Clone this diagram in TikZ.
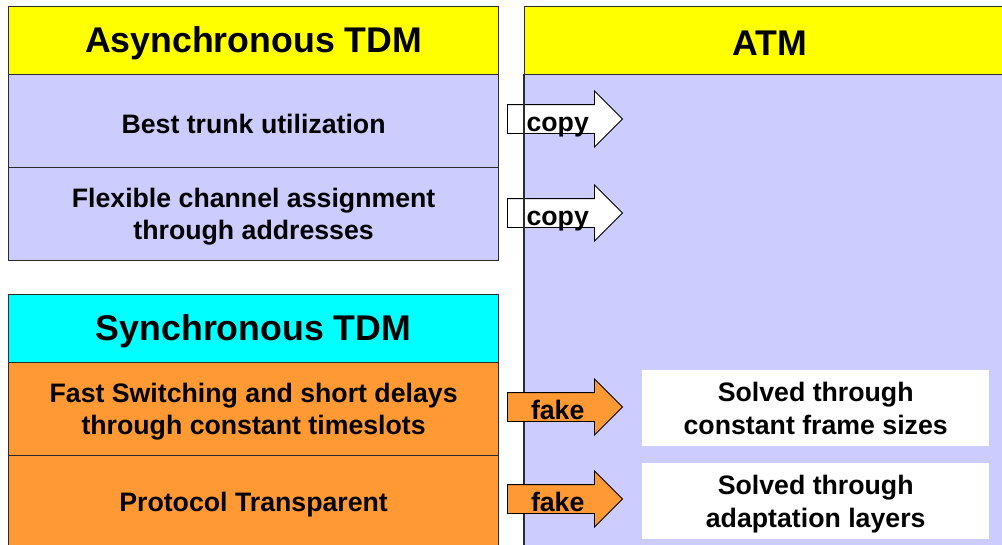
\documentclass[tikz,border=0pt]{standalone}
\usepackage{fontspec}
\setmainfont{Liberation Sans}
\usetikzlibrary{shapes.arrows}
\definecolor{hdryellow}{HTML}{FFFF00}
\definecolor{lav}{HTML}{CCCCFF}
\definecolor{cyanhdr}{HTML}{00FFFF}
\definecolor{orng}{HTML}{FF9933}
\definecolor{edgecol}{HTML}{2B2B2B}
\begin{document}
\begin{tikzpicture}[x=1pt,y=-1pt,
  bodyfont/.style={font=\fontsize{26.7}{32}\selectfont\bfseries},
  headfont/.style={font=\fontsize{35.7}{40}\selectfont\bfseries},
  solvfont/.style={font=\fontsize{26.7}{33}\selectfont\bfseries},
  txt/.style={align=center, inner sep=0pt, yshift=-2.5pt},
  cell/.style={draw=edgecol, line width=1.2pt, anchor=north west, inner sep=0pt,
    minimum width=490pt, minimum height=93pt},
  hdr/.style={cell, minimum height=68pt},
  arr/.style={single arrow, draw=black, line width=0.9pt, anchor=tail,
    minimum height=115pt, single arrow head extend=13.5pt, inner xsep=2pt, inner ysep=1.5pt,
    text height=24.5pt, text depth=0.5pt, bodyfont},
  solved/.style={fill=white, anchor=north west, inner sep=0pt,
    minimum width=347pt, minimum height=76pt}]
\useasboundingbox (0,0) rectangle (1002,544);
\clip (0,0) rectangle (1002,544);
% right column
\node[cell, fill=lav, minimum height=480pt] (rbody) at (524,74) {};
\node[hdr, fill=hdryellow, label={[txt, headfont]center:ATM}] (rhead) at (524,6) {};
% left column
\node[hdr, fill=hdryellow, label={[txt, headfont]center:Asynchronous TDM}] (ahead) at (8,6) {};
\node[cell, fill=lav, label={[txt, bodyfont]center:Best trunk utilization}] (arow1) at (8,74) {};
\node[cell, fill=lav, label={[txt, bodyfont]center:{Flexible channel assignment\\through addresses}}] (arow2) at (8,167) {};
\node[hdr, fill=cyanhdr, label={[txt, headfont]center:Synchronous TDM}] (shead) at (8,294) {};
\node[cell, fill=orng, label={[txt, bodyfont]center:{Fast Switching and short delays\\through constant timeslots}}] (srow1) at (8,362) {};
\node[cell, fill=orng, label={[txt, bodyfont]center:Protocol Transparent}] (srow2) at (8,455) {};
% copy arrows
\node[arr, fill=white] (copy1) at (507,119) {copy};
\node[arr, fill=white] (copy2) at (507,213) {copy};
\draw[draw=edgecol, line width=1.2pt] (rbody.north west) -- (rbody.south west);
% fake arrows
\node[arr, fill=orng] (fake1) at (507,407) {fake};
\node[arr, fill=orng] (fake2) at (507,499) {fake};
% solved boxes
\node[solved, label={[txt, solvfont, yshift=2.5pt]center:{Solved through\\constant frame sizes}}] (solv1) at (642,370) {};
\node[solved, label={[txt, solvfont, yshift=-0.5pt]center:{Solved through\\adaptation layers}}] (solv2) at (642,463) {};
\end{tikzpicture}
\end{document}
